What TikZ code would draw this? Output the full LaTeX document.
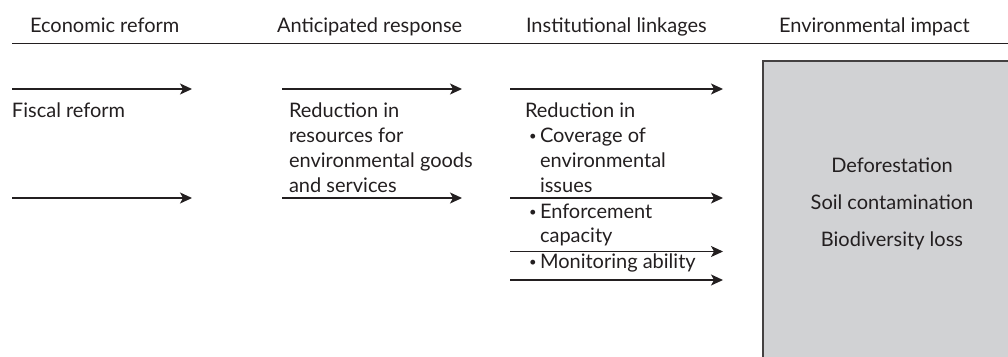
\documentclass[tikz,border=0pt]{standalone}
\usepackage{fontspec}
\setmainfont{Lato}
\usetikzlibrary{arrows.meta}
\definecolor{ink}{HTML}{231F20}
\definecolor{boxfill}{HTML}{D1D2D4}
\tikzset{
  txt/.style={anchor=base west, inner sep=0pt, outer sep=0pt, text=ink, font=\fontsize{20}{25}\selectfont},
  ctxt/.style={anchor=base, inner sep=0pt, outer sep=0pt, text=ink, font=\fontsize{20}{25}\selectfont},
  flow/.style={draw=ink, line width=1.3pt, -{Stealth[length=12pt,width=11pt,inset=3pt]}},
  rule/.style={draw=ink, line width=1.5pt},
  impactbox/.style={draw=ink!85, line width=1.5pt, fill=boxfill}
}
\newcommand{\bul}{\makebox[11pt][l]{\raisebox{1.5pt}{\fontsize{13}{13}\selectfont\textbullet}}}
\begin{document}
\begin{tikzpicture}[x=1pt,y=-1pt]
\useasboundingbox (0,0) rectangle (1008,356);
% impact box (extends past the page edges)
\path[impactbox] (1020,370) -- (763,370) -- (763,61) -- (1020,61);
% header
\coordinate (hl) at (12,43.5);
\coordinate (hr) at (1010,43.5);
\draw[rule] (hl) -- (hr);
\node[txt] (h1) at (30,32) {Economic reform};
\node[txt] (h2) at (277,32) {Anticipated response};
\node[txt] (h3) at (526,32) {Institutional linkages};
\node[txt] (h4) at (779,32) {Environmental impact};
% column 1
\node[txt] (fiscal) at (12,117) {Fiscal reform};
\coordinate (a1s) at (12,89);  \coordinate (a1e) at (192,89);
\coordinate (b1s) at (12,198); \coordinate (b1e) at (192,198);
\draw[flow] (a1s) -- (a1e);
\draw[flow] (b1s) -- (b1e);
% column 2
\node[txt] (r1) at (289,117) {Reduction in};
\node[txt] (r2) at (289,142) {resources for};
\node[txt] (r3) at (289,167) {environmental goods};
\node[txt] (r4) at (289,192) {and services};
\coordinate (a2s) at (282,89);  \coordinate (a2e) at (462,89);
\coordinate (b2s) at (282,198); \coordinate (b2e) at (462,198);
\draw[flow] (a2s) -- (a2e);
\draw[flow] (b2s) -- (b2e);
% column 3
\node[txt] (i1) at (525,117) {Reduction in};
\node[txt] (i2) at (529,142) {\bul Coverage of};
\node[txt] (i3) at (540,167) {environmental};
\node[txt] (i4) at (540,192) {issues};
\node[txt] (i5) at (529,218) {\bul Enforcement};
\node[txt] (i6) at (540,242) {capacity};
\node[txt] (i7) at (529,268) {\bul Monitoring ability};
\coordinate (a3s) at (510,89);  \coordinate (a3e) at (723,89);
\coordinate (b3s) at (510,198); \coordinate (b3e) at (723,198);
\coordinate (c3s) at (510,251.5); \coordinate (c3e) at (723,251.5);
\coordinate (d3s) at (510,280); \coordinate (d3e) at (723,280);
\draw[flow] (a3s) -- (a3e);
\draw[flow] (b3s) -- (b3e);
\draw[flow] (c3s) -- (c3e);
\draw[flow] (d3s) -- (d3e);
% column 4
\node[ctxt] (e1) at (892,172) {Deforestation};
\node[ctxt] (e2) at (892,209) {Soil contamination};
\node[ctxt] (e3) at (892,246) {Biodiversity loss};
\end{tikzpicture}
\end{document}
